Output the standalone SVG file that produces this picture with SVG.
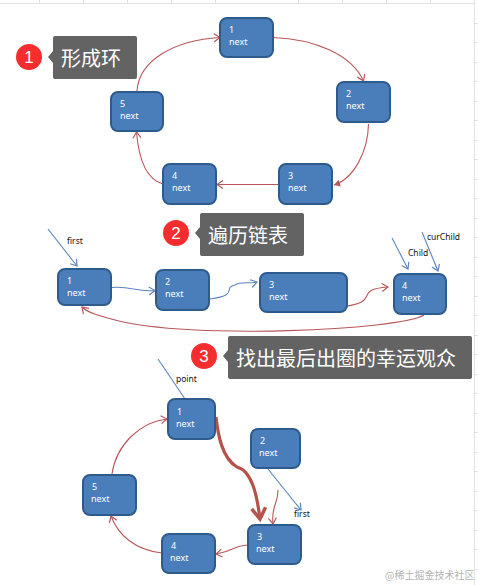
<svg xmlns="http://www.w3.org/2000/svg" width="478" height="585" viewBox="0 0 478 585">
<style>
.grid{stroke:#e2e2e2;stroke-width:1;fill:none}
.n{fill:#4a7ebb;stroke:#2f5b8c;stroke-width:2}
.t{font-family:"Noto Sans","Liberation Sans",sans-serif;font-size:9px;fill:#fff}
.l{font-family:"Noto Sans","Liberation Sans",sans-serif;font-size:8.5px;fill:#111}
.red{fill:none;stroke:#b9575a;stroke-width:1.1}
.blue{fill:none;stroke:#5a86bd;stroke-width:1.1}
.box{fill:#636363}
.c{fill:#f52d2f}
.cn{font-family:"Liberation Sans",sans-serif;font-size:17px;fill:#fff;text-anchor:middle}
.cap{font-family:"Noto Sans CJK SC",sans-serif;font-size:20px;fill:#fff}
</style>
<defs>
<marker id="ar" markerWidth="10" markerHeight="10" refX="8" refY="5" orient="auto" markerUnits="userSpaceOnUse"><path d="M2 1L8 5L2 9" fill="none" stroke="#b9575a" stroke-width="1.2"/></marker>
<marker id="ab" markerWidth="10" markerHeight="10" refX="8" refY="5" orient="auto" markerUnits="userSpaceOnUse"><path d="M2 1L8 5L2 9" fill="none" stroke="#5a86bd" stroke-width="1.2"/></marker>
<marker id="af" markerWidth="9" markerHeight="9" refX="7" refY="4.500" orient="auto" markerUnits="userSpaceOnUse"><path d="M1 1L7 4.500L1 8Z" fill="#b9575a"/></marker>
<marker id="at" markerWidth="18" markerHeight="18" refX="14" refY="9" orient="auto" markerUnits="userSpaceOnUse"><path d="M3 2L14 9L3 16" fill="none" stroke="#b5524a" stroke-width="3.500"/></marker>
</defs>
<rect width="478" height="585" fill="#fff"/>
<g id="grid">
<path class="grid" d="M0 3.500H474M474.500 0V585M39.500 0V3M83.500 0V3M127.500 0V3M171.500 0V3M215.500 0V3M298.500 0V3M342.500 0V3M386.500 0V3M430.500 0V3"/>
<path class="grid" d="M474 23.500H478M474 42.500H478M474 62.500H478M474 81.500H478M474 101.500H478M474 120.500H478M474 140.500H478M474 159.500H478M474 179.500H478M474 198.500H478M474 218.500H478M474 237.500H478M474 257.500H478M474 276.500H478M474 296.500H478M474 315.500H478M474 335.500H478M474 354.500H478M474 374.500H478M474 393.500H478M474 413.500H478M474 432.500H478M474 452.500H478M474 471.500H478M474 491.500H478M474 510.500H478M474 530.500H478M474 549.500H478M474 569.500H478"/>
</g>
<g id="connectors">
<path class="red" marker-end="url(#ar)" d="M273 37.500C315 39 352 55 363.500 81"/>
<path class="red" marker-end="url(#af)" d="M368.500 124C368 150 355 178 334 185"/>
<path class="red" marker-end="url(#ar)" d="M279 184.500H217"/>
<path class="red" marker-end="url(#ar)" d="M163 184C148 180 139 162 136.500 132"/>
<path class="red" marker-end="url(#ar)" d="M137 91C139 60 175 40 220 37.500"/>
<path class="blue" marker-end="url(#ab)" d="M48 229L77 266"/>
<path class="blue" marker-end="url(#ab)" d="M112 287.500C132 286 135 292 155 290.500"/>
<path class="blue" marker-end="url(#ab)" d="M210 299C240 295 222 288 235 285C240 281 250 284 257 282"/>
<path class="red" marker-end="url(#ar)" d="M340 307C385 302 350 290 388 287"/>
<path class="blue" marker-end="url(#ab)" d="M392 238L408 269"/>
<path class="blue" marker-end="url(#ab)" d="M422 232L438 271"/>
<path class="red" marker-end="url(#ar)" d="M424 315C400 330 190 340 115 320C100 316 88 313 82 307"/>
<path class="blue" d="M158 359L185 399"/>
<path d="M216 417C218 435 222 458 237 467C252 471 257 495 260 519" fill="none" stroke="#b5524a" stroke-width="3.200" marker-end="url(#at)"/>
<path class="blue" marker-end="url(#ab)" d="M268 469L301 510"/>
<path class="red" marker-end="url(#ar)" d="M278 490C278 505 271 505 273 524"/>
<path class="red" marker-end="url(#ar)" d="M247 545C232 546 235 551 216 554"/>
<path class="red" marker-end="url(#ar)" d="M162 553C135 550 118 535 111 516"/>
<path class="red" marker-end="url(#ar)" d="M112 474C116 445 140 422 167 419"/>
</g>
<g id="callout1"><circle class="c" cx="29" cy="57" r="13"/><text class="cn" x="29" y="63">1</text><path class="box" d="M53 51L48 57L53 63Z"/><rect class="box" x="53" y="36" width="84" height="43" rx="2"/><text class="cap" x="61" y="66">形成环</text></g>
<g id="callout2"><circle class="c" cx="176" cy="233" r="13"/><text class="cn" x="176" y="239">2</text><path class="box" d="M200 227L195 233L200 239Z"/><rect class="box" x="200" y="213" width="104" height="43" rx="2"/><text class="cap" x="208" y="243">遍历链表</text></g>
<g id="callout3"><circle class="c" cx="204" cy="356" r="13"/><text class="cn" x="204" y="362">3</text><path class="box" d="M228 350L223 356L228 362Z"/><rect class="box" x="228" y="336" width="244" height="43" rx="2"/><text class="cap" x="236" y="366">找出最后出圈的幸运观众</text></g>
<g id="a1"><rect class="n" x="220" y="18" width="53" height="39" rx="7"/><text class="t" x="229" y="33">1</text><text class="t" x="229" y="45">next</text></g>
<g id="a2"><rect class="n" x="337" y="82" width="53" height="40" rx="7"/><text class="t" x="346" y="97">2</text><text class="t" x="346" y="109">next</text></g>
<g id="a3"><rect class="n" x="279" y="164" width="53" height="40" rx="7"/><text class="t" x="288" y="179">3</text><text class="t" x="288" y="191">next</text></g>
<g id="a4"><rect class="n" x="163" y="164" width="53" height="40" rx="7"/><text class="t" x="172" y="179">4</text><text class="t" x="172" y="191">next</text></g>
<g id="a5"><rect class="n" x="111" y="92" width="52" height="39" rx="7"/><text class="t" x="120" y="107">5</text><text class="t" x="120" y="119">next</text></g>
<g id="b1"><rect class="n" x="58" y="269" width="53" height="36" rx="7"/><text class="t" x="67" y="284">1</text><text class="t" x="67" y="296">next</text></g>
<g id="b2"><rect class="n" x="156" y="270" width="53" height="40" rx="7"/><text class="t" x="165" y="285">2</text><text class="t" x="165" y="297">next</text></g>
<g id="b3"><rect class="n" x="260" y="273" width="87" height="39" rx="7"/><text class="t" x="269" y="288">3</text><text class="t" x="269" y="300">next</text></g>
<g id="b4"><rect class="n" x="394" y="274" width="52" height="40" rx="7"/><text class="t" x="402" y="289">4</text><text class="t" x="402" y="301">next</text></g>
<g id="c1"><rect class="n" x="168" y="399" width="47" height="40" rx="7"/><text class="t" x="177" y="415">1</text><text class="t" x="176" y="427">next</text></g>
<g id="c2"><rect class="n" x="251" y="429" width="49" height="39" rx="7"/><text class="t" x="260" y="444">2</text><text class="t" x="259" y="456">next</text></g>
<g id="c3"><rect class="n" x="248" y="525" width="53" height="39" rx="7"/><text class="t" x="257" y="540">3</text><text class="t" x="256" y="552">next</text></g>
<g id="c4"><rect class="n" x="162" y="534" width="53" height="39" rx="7"/><text class="t" x="171" y="549">4</text><text class="t" x="170" y="561">next</text></g>
<g id="c5"><rect class="n" x="83" y="475" width="53" height="40" rx="7"/><text class="t" x="92" y="490">5</text><text class="t" x="91" y="502">next</text></g>
<g id="labels">
<text class="l" x="67" y="244">first</text>
<text class="l" x="408" y="256">Child</text>
<text class="l" x="427" y="240">curChild</text>
<text class="l" x="176" y="382">point</text>
<text class="l" x="294" y="517">first</text>
</g>
<text id="watermark" x="385" y="579" font-family="'Noto Sans CJK SC',sans-serif" font-size="10" fill="#b4b4b4">@稀土掘金技术社区</text>
</svg>
